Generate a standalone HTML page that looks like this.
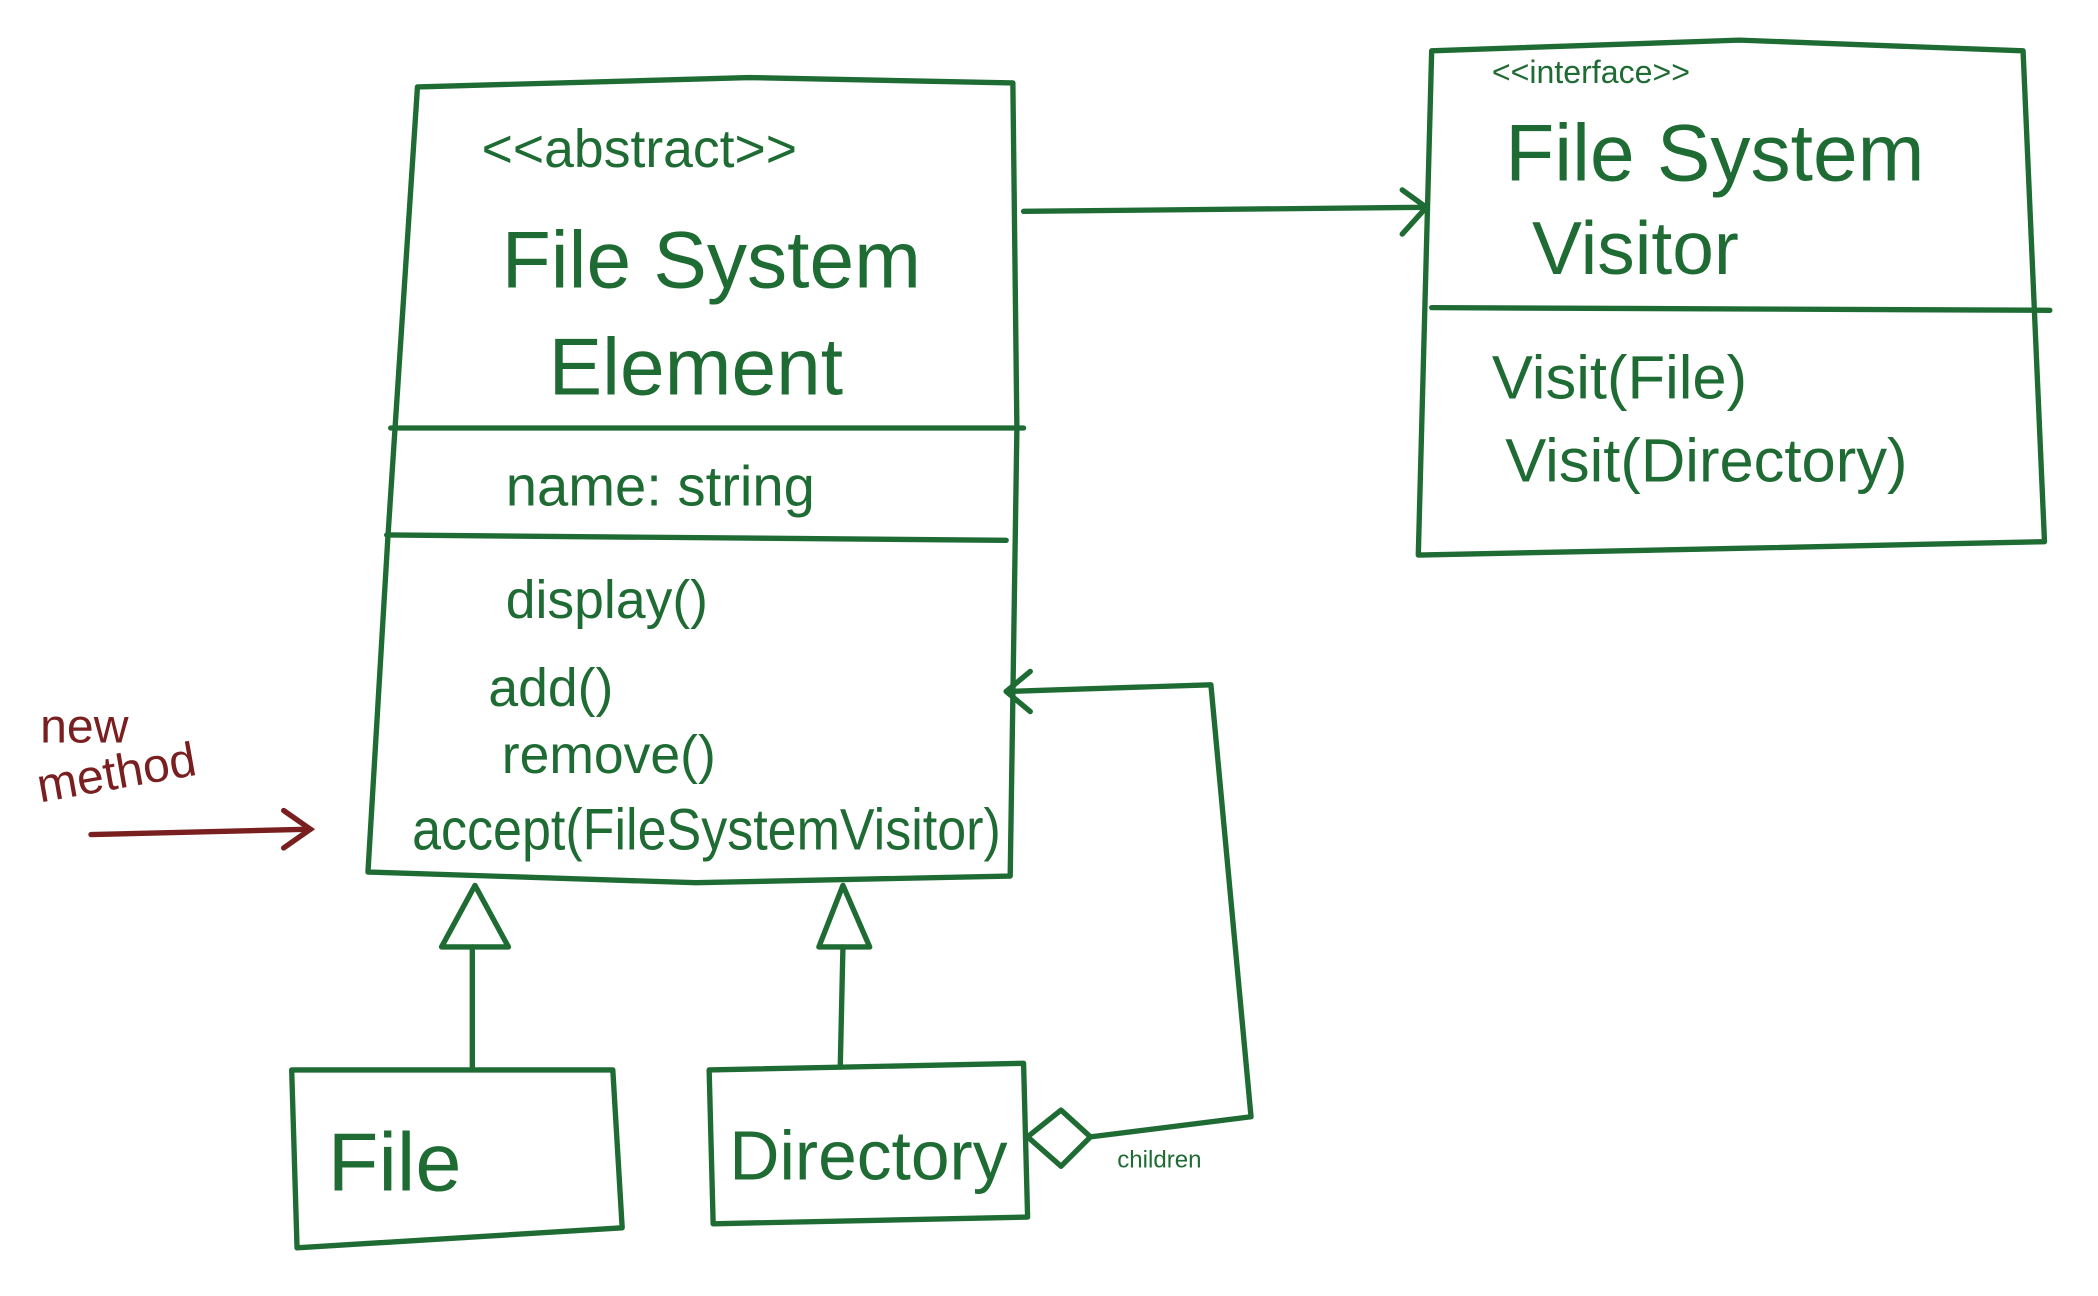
<!DOCTYPE html>
<html><head><meta charset="utf-8"><style>
html,body{margin:0;padding:0;background:#fff;width:2098px;height:1296px;overflow:hidden}
svg{display:block}
text{font-family:"Liberation Sans",sans-serif;fill:#1f6b34}
</style></head><body>
<svg width="2098" height="1296" viewBox="0 0 1568 969" preserveAspectRatio="none" xmlns="http://www.w3.org/2000/svg">
<g fill="none" stroke="#1f6b34" stroke-width="4" stroke-linecap="round" stroke-linejoin="round">
<!-- main box -->
<path d="M312,65 L560,58 L757,62 L760,320 L755,655 L520,660 L275,652 L290,400 L312,65"/>
<path d="M292,320 L765,320"/>
<path d="M289,400 L752,404"/>
<!-- visitor -->
<path d="M1070,38 L1300,30 L1512,38 L1528,405 L1300,410 L1060,415 L1070,38"/>
<path d="M1070,230 L1532,232"/>
<!-- association -->
<path d="M765,158 L1066,155"/>
<path d="M1048,142 L1066,155 L1048,175"/>
<!-- File box -->
<path d="M218,800 L458,800 L465,918 L222,933 Z"/>
<!-- Directory box -->
<path d="M530,800 L765,795 L768,910 L533,915 Z"/>
<!-- inheritance -->
<path d="M355,662 L330,708 L380,708 Z"/>
<path d="M353,708 L353,798"/>
<path d="M630,662 L612,708 L650,708 Z"/>
<path d="M630,708 L628,797"/>
<!-- aggregation -->
<path d="M768,850 L793,830 L815,850 L793,872 Z"/>
<path d="M815,850 L935,835 L905,512 L752,517"/>
<path d="M770,502 L752,517 L770,532"/>
</g>
<g fill="none" stroke="#7a1f1f" stroke-width="4" stroke-linecap="round">
<path d="M68,624 L232,620"/>
<path d="M212,606 L232,620 L212,634"/>
</g>
<text x="360" y="125" font-size="40">&lt;&lt;abstract&gt;&gt;</text>
<text x="375" y="215" font-size="60">File System</text>
<text x="410" y="295" font-size="60">Element</text>
<text x="378" y="378" font-size="42">name: string</text>
<text x="378" y="462" font-size="40">display()</text>
<text x="365" y="528" font-size="40">add()</text>
<text x="375" y="578" font-size="40">remove()</text>
<text x="308" y="635" font-size="44" textLength="440" lengthAdjust="spacingAndGlyphs">accept(FileSystemVisitor)</text>
<text x="1115" y="62" font-size="24">&lt;&lt;interface&gt;&gt;</text>
<text x="1125" y="135" font-size="60">File System</text>
<text x="1145" y="205" font-size="56">Visitor</text>
<text x="1115" y="298" font-size="46">Visit(File)</text>
<text x="1125" y="360" font-size="46">Visit(Directory)</text>
<text x="245" y="890" font-size="62">File</text>
<text x="545" y="882" font-size="52">Directory</text>
<text x="835" y="873" font-size="18">children</text>
<text x="30" y="555" font-size="36" style="fill:#7a1f1f">new</text>
<text x="30" y="600" font-size="36" style="fill:#7a1f1f" transform="rotate(-10 30 600)">method</text>
</svg>
</body></html>
